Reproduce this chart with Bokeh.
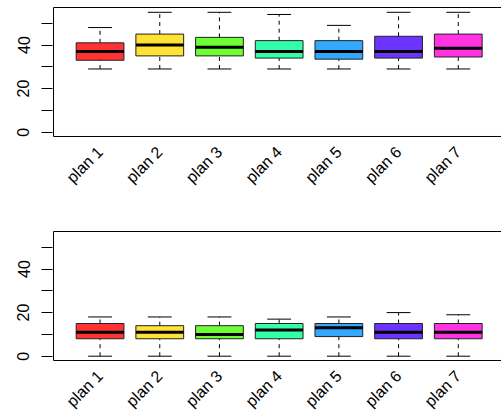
import math
from bokeh.plotting import figure
from bokeh.models import (ColumnDataSource, Range1d, FixedTicker, LabelSet,
                          BoxAnnotation)
from bokeh.core.properties import value
from bokeh.layouts import column
from bokeh.transform import dodge
from bokeh.embed import file_html
from bokeh.resources import INLINE

plans = ["plan 1", "plan 2", "plan 3", "plan 4", "plan 5", "plan 6", "plan 7"]
positions = [1, 2, 3, 4, 5, 6, 7]
colors = ["#FF0000", "#FFDB00", "#49FF00", "#00FF92", "#0092FF", "#4900FF", "#FF00DB"]

top_lower = [29, 29, 29, 29, 29, 29, 29]
top_q1 = [33, 35, 35, 34, 33.5, 34, 34.5]
top_median = [37, 40, 39, 37, 37, 37, 38.5]
top_q3 = [41, 45, 43.5, 42, 42, 44, 45]
top_upper = [48, 55, 55, 54, 49, 55, 55]

bot_lower = [0, 0, 0, 0, 0, 0, 0]
bot_q1 = [8, 8, 8, 8, 9, 8, 8]
bot_median = [11, 11, 10, 12, 13, 11, 11]
bot_q3 = [15, 14, 14, 15, 15, 15, 15]
bot_upper = [18, 18, 18, 17, 18, 20, 19]

y_ticks = [0, 10, 20, 30, 40, 50]
y_tick_labels = {0: "0", 10: "", 20: "20", 30: "", 40: "40", 50: ""}

FONT = "Liberation Sans"
FSIZE = "16px"

# layout constants (pixels / axis units)
PX_PER_UNIT = 2.18        # vertical scale
PX_PER_CAT = 59.7         # horizontal scale
BOX_Y0, BOX_Y1 = -1.97, 57.2   # visible plotting box (R's usr)
BOX_X0 = 0.22
LABEL_Y = -7.8            # category labels, below the box
FRAME_LEFT = 52
WIDTH = 501


def panel(lower, q1, med, q3, upper, height, frame_top, zero_px):
    src = ColumnDataSource(dict(x=positions, lower=lower, q1=q1, med=med,
                                q3=q3, upper=upper, color=colors, name=plans,
                                ylab=[LABEL_Y] * len(plans)))
    x_start = BOX_X0 - 1 / PX_PER_CAT
    x_end = x_start + (WIDTH - FRAME_LEFT) / PX_PER_CAT
    y_end = (zero_px - frame_top) / PX_PER_UNIT
    y_start = (zero_px - height) / PX_PER_UNIT
    p = figure(width=WIDTH, height=height, output_backend="svg", toolbar_location=None,
               x_range=Range1d(x_start, x_end), y_range=Range1d(y_start, y_end),
               min_border_left=FRAME_LEFT, min_border_right=0,
               min_border_top=frame_top, min_border_bottom=0)
    p.grid.visible = False
    p.outline_line_color = None
    p.background_fill_color = "white"
    p.border_fill_color = "white"

    # plotting box (open on the right, as in the cropped original)
    p.add_layout(BoxAnnotation(left=BOX_X0, right=x_end + 1, bottom=BOX_Y0, top=BOX_Y1,
                               fill_alpha=0, line_color="black", line_width=1,
                               line_alpha=1))

    # whiskers
    p.segment(x0="x", x1="x", y0="q3", y1="upper", source=src, line_color="black",
              line_width=1, line_dash="4 4")
    p.segment(x0="x", x1="x", y0="lower", y1="q1", source=src, line_color="black",
              line_width=1, line_dash="4 4")
    # caps
    p.segment(x0=dodge("x", -0.2), x1=dodge("x", 0.2), y0="upper", y1="upper",
              source=src, line_color="black", line_width=1)
    p.segment(x0=dodge("x", -0.2), x1=dodge("x", 0.2), y0="lower", y1="lower",
              source=src, line_color="black", line_width=1)
    # boxes
    p.vbar(x="x", width=0.8, bottom="q1", top="q3", source=src, fill_color="color",
           fill_alpha=0.8, line_color="#222222", line_width=1)
    # medians
    p.segment(x0=dodge("x", -0.4), x1=dodge("x", 0.4), y0="med", y1="med",
              source=src, line_color="black", line_width=3)

    ya = p.yaxis[0]
    ya.ticker = FixedTicker(ticks=y_ticks)
    ya.major_label_overrides = y_tick_labels
    ya.axis_line_color = None
    ya.major_tick_in = 0
    ya.major_tick_out = 11
    ya.major_tick_line_color = "black"
    ya.minor_tick_line_color = None
    ya.major_label_orientation = "vertical"
    ya.major_label_standoff = 12
    ya.major_label_text_font = FONT
    ya.major_label_text_font_size = FSIZE
    ya.major_label_text_color = "black"

    p.xaxis.visible = False

    p.add_layout(LabelSet(x="x", y="ylab", text="name", source=src,
                          angle=math.pi / 4, text_align="right",
                          text_baseline="middle", text_font=value(FONT),
                          text_font_size=value(FSIZE), text_color="black"))
    return p


p1 = panel(top_lower, top_q1, top_median, top_q3, top_upper,
           height=220, frame_top=6, zero_px=131.7)
p2 = panel(bot_lower, bot_q1, bot_median, bot_q3, bot_upper,
           height=191, frame_top=10, zero_px=135.7)

layout = column(p1, p2, spacing=0)
open("out.html", "w").write(file_html(layout, INLINE))
